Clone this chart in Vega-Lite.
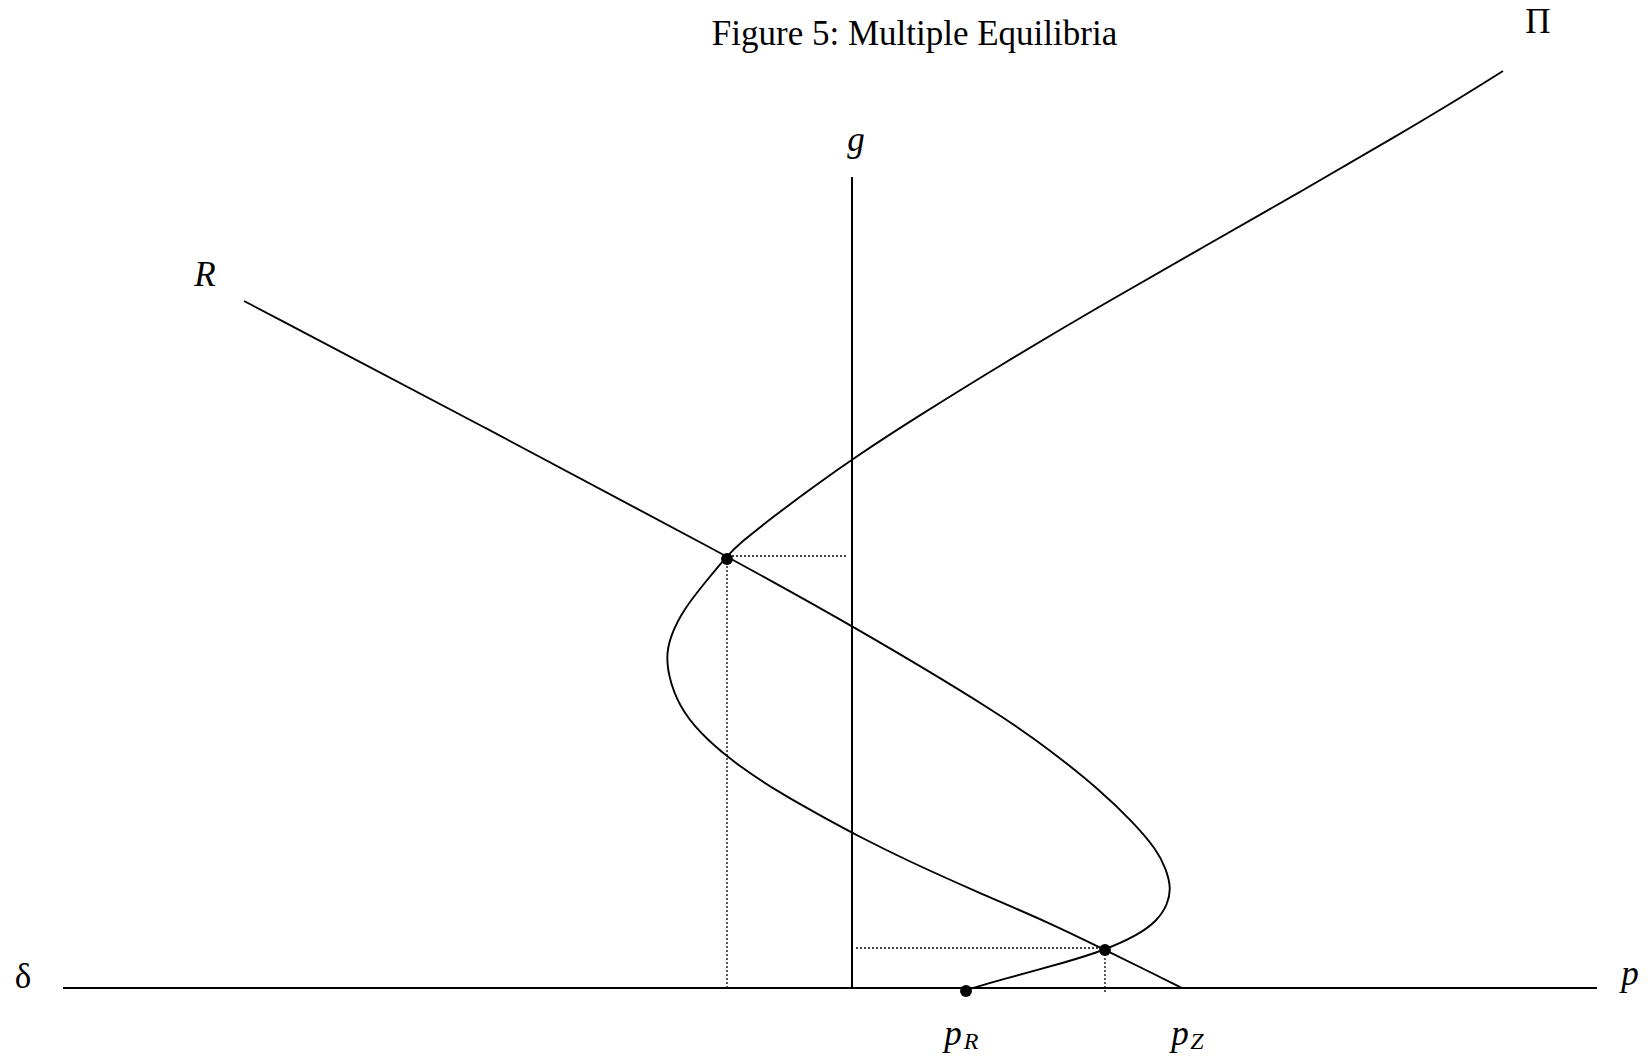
{
  "$schema": "https://vega.github.io/schema/vega-lite/v6.json",
  "width": 1651,
  "height": 1063,
  "autosize": {"type": "none"},
  "padding": 0,
  "background": "white",
  "view": {"stroke": null},
  "title": {
    "text": "Figure 5: Multiple Equilibria",
    "font": "Liberation Serif",
    "fontSize": 35,
    "fontWeight": "normal",
    "color": "#000",
    "anchor": "middle",
    "dx": 89,
    "offset": -52
  },
  "datasets": {
    "curves": [
      {"curve": "R", "i": 1, "p": -608, "g": 687},
      {"curve": "R", "i": 2, "p": -366, "g": 560},
      {"curve": "R", "i": 3, "p": -125, "g": 432},
      {"curve": "R", "i": 4, "p": 8, "g": 358},
      {"curve": "R", "i": 5, "p": 148, "g": 274},
      {"curve": "R", "i": 6, "p": 198, "g": 238},
      {"curve": "R", "i": 7, "p": 248, "g": 198},
      {"curve": "R", "i": 8, "p": 281, "g": 166},
      {"curve": "R", "i": 9, "p": 305, "g": 138},
      {"curve": "R", "i": 10, "p": 314, "g": 119},
      {"curve": "R", "i": 11, "p": 319, "g": 101},
      {"curve": "R", "i": 12, "p": 316, "g": 84},
      {"curve": "R", "i": 13, "p": 305, "g": 67},
      {"curve": "R", "i": 14, "p": 286, "g": 53},
      {"curve": "R", "i": 15, "p": 253, "g": 38},
      {"curve": "R", "i": 16, "p": 215, "g": 26},
      {"curve": "R", "i": 17, "p": 148, "g": 8},
      {"curve": "R", "i": 18, "p": 114, "g": -2},
      {"curve": "Π", "i": 1, "p": 651, "g": 917},
      {"curve": "Π", "i": 2, "p": 608, "g": 890},
      {"curve": "Π", "i": 3, "p": 548, "g": 854},
      {"curve": "Π", "i": 4, "p": 448, "g": 796},
      {"curve": "Π", "i": 5, "p": 348, "g": 739},
      {"curve": "Π", "i": 6, "p": 248, "g": 682},
      {"curve": "Π", "i": 7, "p": 152, "g": 625},
      {"curve": "Π", "i": 8, "p": 60, "g": 568},
      {"curve": "Π", "i": 9, "p": 8, "g": 534},
      {"curve": "Π", "i": 10, "p": -39, "g": 501},
      {"curve": "Π", "i": 11, "p": -79, "g": 471},
      {"curve": "Π", "i": 12, "p": -112, "g": 445},
      {"curve": "Π", "i": 13, "p": -125, "g": 432},
      {"curve": "Π", "i": 14, "p": -145, "g": 408},
      {"curve": "Π", "i": 15, "p": -169, "g": 378},
      {"curve": "Π", "i": 16, "p": -182, "g": 351},
      {"curve": "Π", "i": 17, "p": -186, "g": 331},
      {"curve": "Π", "i": 18, "p": -182, "g": 305},
      {"curve": "Π", "i": 19, "p": -169, "g": 275},
      {"curve": "Π", "i": 20, "p": -145, "g": 248},
      {"curve": "Π", "i": 21, "p": -112, "g": 221},
      {"curve": "Π", "i": 22, "p": -72, "g": 195},
      {"curve": "Π", "i": 23, "p": -29, "g": 171},
      {"curve": "Π", "i": 24, "p": 8, "g": 151},
      {"curve": "Π", "i": 25, "p": 54, "g": 128},
      {"curve": "Π", "i": 26, "p": 125, "g": 96},
      {"curve": "Π", "i": 27, "p": 198, "g": 65},
      {"curve": "Π", "i": 28, "p": 253, "g": 38},
      {"curve": "Π", "i": 29, "p": 298, "g": 16},
      {"curve": "Π", "i": 30, "p": 330, "g": 0}
    ],
    "axes": [
      {"name": "p-axis", "p": -789, "p2": 745, "g": 0, "g2": 0},
      {"name": "g-axis", "p": 0, "p2": 0, "g": 0, "g2": 811}
    ],
    "guides": [
      {"p": -120, "p2": -6, "g": 432, "g2": 432},
      {"p": -125, "p2": -125, "g": 422, "g2": 0},
      {"p": 4, "p2": 248, "g": 40, "g2": 40},
      {"p": 253, "p2": 253, "g": 34, "g2": -5}
    ],
    "points": [
      {"name": "high equilibrium", "p": -125, "g": 429},
      {"name": "low equilibrium", "p": 253, "g": 38},
      {"name": "pR", "p": 114, "g": -3}
    ],
    "labels": [
      {"kind": "upright", "text": "Π", "p": 686, "g": 955},
      {"kind": "upright", "text": "δ", "p": -829, "g": 0},
      {"kind": "italic", "text": "g", "p": 4, "g": 837},
      {"kind": "italic", "text": "R", "p": -647, "g": 702},
      {"kind": "italic", "text": "p", "p": 778, "g": 3},
      {"kind": "italic", "text": "p", "p": 101, "g": -57},
      {"kind": "italic", "text": "p", "p": 328, "g": -57},
      {"kind": "sub", "text": "R", "p": 119, "g": -61},
      {"kind": "sub", "text": "Z", "p": 345, "g": -61}
    ]
  },
  "layer": [
    {
      "data": {"name": "axes"},
      "mark": {"type": "rule", "color": "#000", "strokeWidth": 2},
      "encoding": {
        "x": {"field": "p", "type": "quantitative", "axis": null, "scale": {"domain": [-852, 799], "nice": false, "zero": false}},
        "x2": {"field": "p2"},
        "y": {"field": "g", "type": "quantitative", "axis": null, "scale": {"domain": [-75, 988], "nice": false, "zero": false}},
        "y2": {"field": "g2"}
      }
    },
    {
      "data": {"name": "guides"},
      "mark": {"type": "rule", "color": "#000", "strokeWidth": 1.3, "strokeDash": [2, 2]},
      "encoding": {
        "x": {"field": "p", "type": "quantitative", "axis": null, "scale": {"domain": [-852, 799], "nice": false, "zero": false}},
        "x2": {"field": "p2"},
        "y": {"field": "g", "type": "quantitative", "axis": null, "scale": {"domain": [-75, 988], "nice": false, "zero": false}},
        "y2": {"field": "g2"}
      }
    },
    {
      "data": {"name": "curves"},
      "mark": {"type": "line", "color": "#000", "strokeWidth": 1.9, "interpolate": "basis"},
      "encoding": {
        "x": {"field": "p", "type": "quantitative", "axis": null, "scale": {"domain": [-852, 799], "nice": false, "zero": false}},
        "y": {"field": "g", "type": "quantitative", "axis": null, "scale": {"domain": [-75, 988], "nice": false, "zero": false}},
        "detail": {"field": "curve"},
        "order": {"field": "i", "type": "quantitative"}
      }
    },
    {
      "data": {"name": "points"},
      "mark": {"type": "circle", "color": "#000", "opacity": 1, "size": 140},
      "encoding": {
        "x": {"field": "p", "type": "quantitative", "axis": null, "scale": {"domain": [-852, 799], "nice": false, "zero": false}},
        "y": {"field": "g", "type": "quantitative", "axis": null, "scale": {"domain": [-75, 988], "nice": false, "zero": false}}
      }
    },
    {
      "data": {"name": "labels"},
      "transform": [{"filter": "datum.kind === 'upright'"}],
      "mark": {"type": "text", "font": "Liberation Serif", "fontSize": 35, "color": "#000", "align": "center", "baseline": "alphabetic"},
      "encoding": {
        "x": {"field": "p", "type": "quantitative", "axis": null, "scale": {"domain": [-852, 799], "nice": false, "zero": false}},
        "y": {"field": "g", "type": "quantitative", "axis": null, "scale": {"domain": [-75, 988], "nice": false, "zero": false}},
        "text": {"field": "text"}
      }
    },
    {
      "data": {"name": "labels"},
      "transform": [{"filter": "datum.kind === 'italic'"}],
      "mark": {"type": "text", "font": "Liberation Serif", "fontSize": 35, "fontStyle": "italic", "color": "#000", "align": "center", "baseline": "alphabetic"},
      "encoding": {
        "x": {"field": "p", "type": "quantitative", "axis": null, "scale": {"domain": [-852, 799], "nice": false, "zero": false}},
        "y": {"field": "g", "type": "quantitative", "axis": null, "scale": {"domain": [-75, 988], "nice": false, "zero": false}},
        "text": {"field": "text"}
      }
    },
    {
      "data": {"name": "labels"},
      "transform": [{"filter": "datum.kind === 'sub'"}],
      "mark": {"type": "text", "font": "Liberation Serif", "fontSize": 24, "fontStyle": "italic", "color": "#000", "align": "center", "baseline": "alphabetic"},
      "encoding": {
        "x": {"field": "p", "type": "quantitative", "axis": null, "scale": {"domain": [-852, 799], "nice": false, "zero": false}},
        "y": {"field": "g", "type": "quantitative", "axis": null, "scale": {"domain": [-75, 988], "nice": false, "zero": false}},
        "text": {"field": "text"}
      }
    }
  ]
}
